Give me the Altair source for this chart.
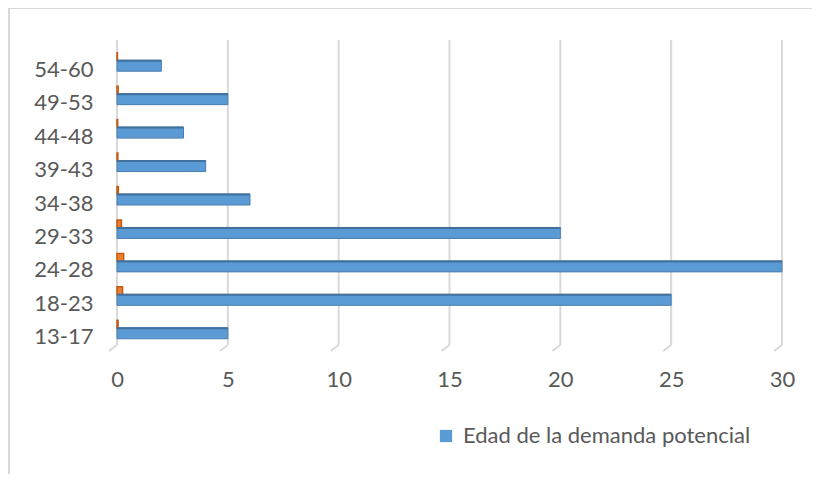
import altair as alt
import pandas as pd

categories = ["13-17", "18-23", "24-28", "29-33", "34-38", "39-43", "44-48", "49-53", "54-60"]
demanda = [5, 25, 30, 20, 6, 4, 3, 5, 2]
porcentaje = [0.05, 0.25, 0.30, 0.20, 0.06, 0.04, 0.03, 0.05, 0.02]
ticks = [0, 5, 10, 15, 20, 25, 30]
serie_name = "Edad de la demanda potencial"

FONT = "Lato"
TXT = "#595959"
GRID = "#d9d9d9"

df = pd.DataFrame({"cat": categories, "v": demanda, "p": porcentaje, "s": serie_name})
grid_df = pd.DataFrame({"t": ticks})
one = pd.DataFrame({"a": [0]})

W, H = 665, 301
order = categories[::-1]

xscale = alt.Scale(domain=[0, 30], nice=False)
yenc = alt.Y("cat:N", sort=order, scale=alt.Scale(paddingInner=0, paddingOuter=0),
             axis=alt.Axis(title=None, domain=False, ticks=False, grid=False,
                           labelFont=FONT, labelFontSize=22, labelColor=TXT,
                           labelPadding=24))

grid = alt.Chart(grid_df).mark_rule(color=GRID, strokeWidth=2).encode(
    x=alt.X("t:Q", scale=xscale,
            axis=alt.Axis(title=None, values=ticks, domain=False, ticks=False, grid=False,
                          labelFlush=False, labelOverlap=False,
                          labelFont=FONT, labelFontSize=22, labelColor=TXT, labelPadding=15)),
    y=alt.value(-13), y2=alt.value(292))
slant = alt.Chart(grid_df).mark_rule(color=GRID, strokeWidth=2, x2Offset=-8).encode(
    x=alt.X("t:Q", scale=xscale), x2="t:Q", y=alt.value(292), y2=alt.value(298))

blue = alt.Chart(df).mark_bar(size=11, yOffset=-4, stroke="#4A7EB0", strokeWidth=1).encode(
    x=alt.X("v:Q", scale=xscale),
    y=yenc,
    color=alt.Color("s:N", scale=alt.Scale(domain=[serie_name], range=["#5B9BD5"]),
                    legend=alt.Legend(title=None, orient="none", legendX=318, legendY=372,
                                      symbolType="square", symbolSize=150, symbolStrokeWidth=0,
                                      labelFont=FONT, labelFontSize=22, labelColor=TXT,
                                      labelOffset=6, labelLimit=0)))
blue_top = alt.Chart(df).mark_bar(size=2, yOffset=-9, color="#41719C").encode(
    x=alt.X("v:Q", scale=xscale), y=yenc)
orange = alt.Chart(df).mark_bar(size=8, yOffset=-13, color="#ED7D31", stroke="#C55A11",
                                strokeWidth=1.5).encode(
    x=alt.X("p:Q", scale=xscale), y=yenc)

border_v = alt.Chart(one).mark_rule(color=GRID, strokeWidth=2).encode(
    x=alt.value(-108), y=alt.value(-45), y2=alt.value(460))
border_h = alt.Chart(one).mark_rule(color=GRID, strokeWidth=2).encode(
    x=alt.value(-108), x2=alt.value(720), y=alt.value(-45))

chart = alt.layer(border_v, border_h, grid, slant, orange, blue, blue_top).properties(
    width=W, height=H,
    autosize=alt.AutoSizeParams(type="none"),
    padding={"left": 109, "top": 45, "right": 30, "bottom": 120},
).configure_view(stroke=None)

chart.save("out.html", embed_options={"renderer": "svg", "actions": False})
